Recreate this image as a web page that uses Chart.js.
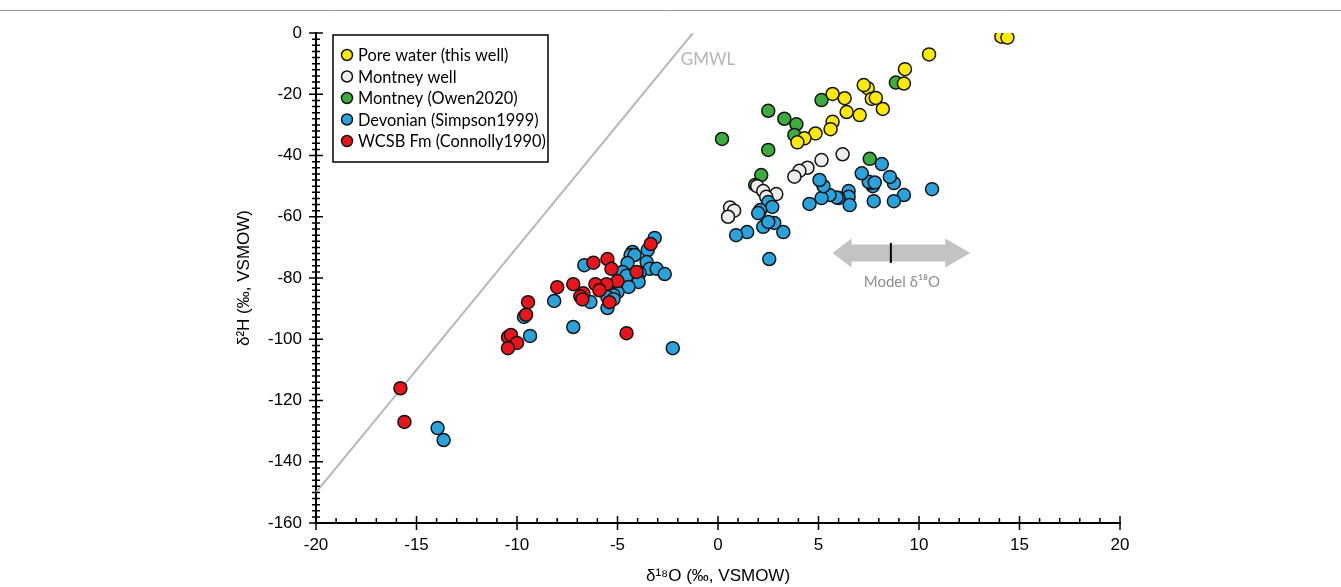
<html>
<head>
<script src="https://cdn.jsdelivr.net/npm/chart.js"></script>
<title>d18O vs d2H</title>
<style>
  body { margin: 0; background: #fff; }
  #wrap { width: 1341px; height: 587px; }
</style>
</head>
<body>
<div id="wrap"><canvas id="chart-1" width="1341" height="587"></canvas></div>

<script>
  // series: [δ18O, δ2H]
  const poreWater = [[14.1,-1.2],[14.4,-1.5],[10.5,-7],[9.3,-11.8],[9.25,-16.5],[7.45,-18],[7.25,-17],
    [7.65,-21.5],[7.85,-21.2],[8.2,-24.8],[7.05,-26.8],[6.4,-25.8],[6.3,-21.3],[5.7,-19.9],[5.7,-29],
    [5.6,-31.4],[4.85,-32.8],[4.3,-34.4],[3.95,-35.7]];
  const montneyWell = [[6.2,-39.6],[5.15,-41.5],[4.45,-44],[4.05,-45],[3.8,-46.9],[1.95,-50],[2.25,-51.6],
    [2.9,-52.6],[2.4,-53.5],[0.6,-57],[0.8,-58],[0.5,-60]];
  const montneyOwen = [[0.2,-34.6],[2.5,-25.4],[2.5,-38.2],[3.3,-28],[3.9,-29.8],[3.8,-33.3],[5.15,-21.9],
    [8.85,-16.2],[2.15,-46.4],[7.55,-41.1],[1.85,-49.6]];
  const devonian = [[10.65,-51],[9.25,-52.9],[8.75,-54.9],[8.75,-49],[8.55,-47],[8.15,-42.8],[7.75,-54.9],
    [7.7,-50],[7.6,-49],[7.5,-48.6],[7.8,-48.8],[7.15,-45.8],[6.5,-51.6],[6.5,-53.5],[6.55,-56.2],
    [6.0,-53.9],[5.9,-53.7],[5.55,-52.9],[5.15,-53.9],[5.25,-50],[5.05,-48],[4.55,-55.8],[2.5,-55.2],
    [2.7,-56.8],[2.1,-57.8],[2.0,-58.8],[2.25,-63.3],[2.8,-62],[2.5,-61.7],[3.25,-65],[1.45,-65],
    [0.9,-66],[2.55,-73.8],
    [-3.15,-66.9],[-3.5,-70.9],[-4.25,-71.5],[-4.35,-72.5],[-4.15,-72.5],[-3.55,-74.8],[-4.5,-75.1],
    [-3.4,-77],[-3.05,-77],[-2.65,-78.7],[-3.9,-78.4],[-4.05,-79.3],[-4.75,-78],[-4.55,-79.3],
    [-3.95,-81.3],[-4.45,-82.9],[-5.0,-84.6],[-5.35,-84.9],[-5.2,-85.6],[-5.5,-86.2],[-5.2,-86.9],
    [-5.5,-89.8],[-6.35,-87.8],[-6.65,-75.8],[-8.15,-87.5],[-9.65,-92.7],[-9.35,-98.9],[-7.2,-96],
    [-2.25,-102.9],[-13.95,-129],[-13.65,-132.9]];
  const wcsb = [[-3.35,-68.9],[-4.05,-78],[-5.0,-81],[-5.55,-82],[-6.1,-82],[-5.9,-84],[-5.5,-73.8],
    [-5.3,-77],[-6.2,-75],[-7.2,-82],[-8.0,-83],[-6.7,-85],[-6.85,-86],[-6.75,-87],[-5.4,-87.9],
    [-9.45,-87.9],[-9.55,-92],[-10.45,-99.3],[-10.3,-98.6],[-10.0,-101.2],[-10.45,-102.9],[-4.55,-98],
    [-15.8,-116],[-15.6,-127]];
  const gmwl = [[-20,-150],[-1.25,0]];

  const seriesNames = ['Pore water (this well)', 'Montney well', 'Montney (Owen2020)',
    'Devonian (Simpson1999)', 'WCSB Fm (Connolly1990)'];
  const seriesColors = ['#ffeb00', '#eeeeee', '#3cad3c', '#2aa3dc', '#e8161c'];

  // model d18O arrow (data units)
  const arrowFrom = 5.7, arrowTo = 12.55, arrowMid = 8.6, arrowY = -71.8;
  const gmwlLabelAt = [-1.85, -8.8];

  const toXY = arr => arr.map(p => ({ x: p[0], y: p[1] }));

  function pointSet(i, data, order) {
    return {
      type: 'scatter',
      label: seriesNames[i],
      data: toXY(data),
      backgroundColor: seriesColors[i],
      borderColor: '#141414',
      borderWidth: 1.5,
      pointRadius: 6.5,
      pointHoverRadius: 6.5,
      order: order
    };
  }

  const decor = {
    id: 'decor',
    afterDraw(chart) {
      const ctx = chart.ctx;
      const xs = chart.scales.x, ys = chart.scales.y;
      const area = chart.chartArea;
      ctx.save();

      // thin frame line at the top of the figure
      ctx.strokeStyle = '#9a9a9a';
      ctx.lineWidth = 1;
      ctx.beginPath();
      ctx.moveTo(0, 10.5);
      ctx.lineTo(chart.width, 10.5);
      ctx.stroke();

      // minor / major ticks
      ctx.strokeStyle = '#000';
      ctx.lineWidth = 1.5;
      ctx.beginPath();
      for (let v = -20; v <= 20; v++) {
        const px = xs.getPixelForValue(v);
        const major = v % 5 === 0;
        ctx.moveTo(px, area.bottom - (major ? 7 : 5));
        ctx.lineTo(px, area.bottom + (major ? 7 : 0));
      }
      for (let v = -160; v <= 0; v += 2) {
        const py = ys.getPixelForValue(v);
        const major = v % 20 === 0;
        ctx.moveTo(area.left - (major ? 7 : 4), py);
        ctx.lineTo(area.left + (major ? 7 : 4), py);
      }
      ctx.stroke();

      // GMWL label
      ctx.fillStyle = '#b5b5b5';
      ctx.font = '17px Lato';
      ctx.textAlign = 'left';
      ctx.textBaseline = 'middle';
      ctx.fillText('GMWL', xs.getPixelForValue(gmwlLabelAt[0]), ys.getPixelForValue(gmwlLabelAt[1]));

      // model arrow
      const x1 = xs.getPixelForValue(arrowFrom), x2 = xs.getPixelForValue(arrowTo);
      const xc = xs.getPixelForValue(arrowMid), yc = ys.getPixelForValue(arrowY);
      ctx.fillStyle = '#c3c3c3';
      ctx.beginPath();
      ctx.moveTo(x1, yc);
      ctx.lineTo(x1 + 19, yc - 14.5);
      ctx.lineTo(x1 + 19, yc - 8.5);
      ctx.lineTo(x2 - 25, yc - 8.5);
      ctx.lineTo(x2 - 25, yc - 14.5);
      ctx.lineTo(x2, yc);
      ctx.lineTo(x2 - 25, yc + 14.5);
      ctx.lineTo(x2 - 25, yc + 8.5);
      ctx.lineTo(x1 + 19, yc + 8.5);
      ctx.lineTo(x1 + 19, yc + 14.5);
      ctx.closePath();
      ctx.fill();
      ctx.strokeStyle = '#000';
      ctx.lineWidth = 2;
      ctx.beginPath();
      ctx.moveTo(xc, yc - 10);
      ctx.lineTo(xc, yc + 10);
      ctx.stroke();
      ctx.fillStyle = '#8e8e8e';
      ctx.font = '15px Lato';
      ctx.textAlign = 'center';
      ctx.fillText('Model δ¹⁸O', xc + 11, yc + 29);

      // legend box
      const lx = area.left + 17, ly = area.top + 2, lw = 215, lh = 127;
      ctx.fillStyle = '#fff';
      ctx.fillRect(lx, ly, lw, lh);
      ctx.strokeStyle = '#000';
      ctx.lineWidth = 1.5;
      ctx.strokeRect(lx, ly, lw, lh);
      ctx.font = '16.4px Lato';
      ctx.textAlign = 'left';
      for (let i = 0; i < seriesNames.length; i++) {
        const cy = ly + 20 + i * 21.5;
        ctx.beginPath();
        ctx.arc(lx + 14, cy, 5.5, 0, Math.PI * 2);
        ctx.fillStyle = seriesColors[i];
        ctx.fill();
        ctx.lineWidth = 1.5;
        ctx.strokeStyle = '#141414';
        ctx.stroke();
        ctx.fillStyle = '#000';
        ctx.fillText(seriesNames[i], lx + 25, cy + 1);
      }
      ctx.restore();
    }
  };

  const config = {
    type: 'scatter',
    data: {
      datasets: [
        {
          type: 'line',
          label: 'GMWL',
          data: toXY(gmwl),
          borderColor: '#b9b9b9',
          borderWidth: 2,
          pointRadius: 0,
          fill: false,
          order: 10
        },
        pointSet(2, montneyOwen, 5),
        pointSet(1, montneyWell, 4),
        pointSet(3, devonian, 3),
        pointSet(4, wcsb, 2),
        pointSet(0, poreWater, 1)
      ]
    },
    options: {
      responsive: false,
      animation: false,
      layout: { padding: { left: 230, top: 33, right: 221, bottom: 0 } },
      scales: {
        x: {
          type: 'linear',
          min: -20, max: 20,
          afterFit: s => { s.height = 64; },
          grid: { display: false, drawTicks: false },
          border: { display: true, color: '#000', width: 2 },
          ticks: { stepSize: 5, padding: 12, color: '#000', font: { size: 17, family: 'Liberation Sans' } },
          title: {
            display: true,
            text: 'δ¹⁸O (‰, VSMOW)',
            color: '#000',
            font: { size: 17, family: 'Liberation Sans' },
            padding: { top: 2, bottom: 0 }
          }
        },
        y: {
          type: 'linear',
          min: -160, max: 0,
          afterFit: s => { s.width = 86; },
          grid: { display: false, drawTicks: false },
          border: { display: true, color: '#000', width: 2 },
          ticks: { stepSize: 20, padding: 14, color: '#000', font: { size: 17, family: 'Liberation Sans' } },
          title: {
            display: true,
            text: 'δ²H (‰, VSMOW)',
            color: '#000',
            font: { size: 17, family: 'Liberation Sans' },
            padding: { top: 4, bottom: 2 }
          }
        }
      },
      plugins: {
        legend: { display: false },
        tooltip: { enabled: false }
      }
    },
    plugins: [decor]
  };

  const chart = new Chart(document.getElementById('chart-1'), config);
</script>
</body>
</html>
